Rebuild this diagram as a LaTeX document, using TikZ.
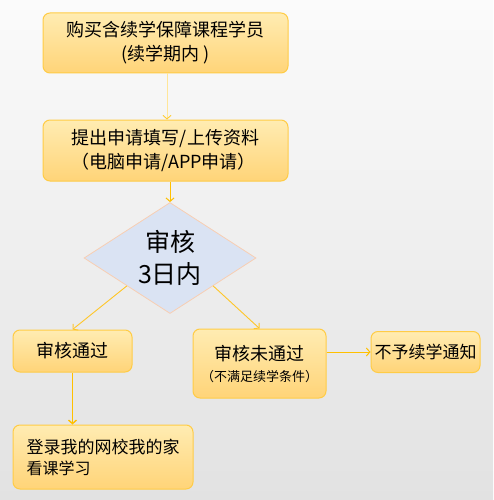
\documentclass[tikz,border=0pt]{standalone}
\usepackage{fontspec}
\setmainfont{Noto Sans CJK SC}
\usepackage{xcolor}
\usepackage{tikz}
\usetikzlibrary{positioning}
\usetikzlibrary{shapes.geometric}
\usetikzlibrary{arrows.meta}

\definecolor{boxtop}{RGB}{255,236,178}
\definecolor{boxbot}{RGB}{255,212,120}
\definecolor{boxline}{RGB}{255,204,70}
\definecolor{diafill}{RGB}{218,227,243}
\definecolor{dialine}{RGB}{248,206,178}
\definecolor{flowc}{RGB}{255,192,0}
\definecolor{thinflow}{RGB}{255,198,40}
\definecolor{bgtop}{RGB}{251,251,251}
\definecolor{bgbot}{RGB}{226,226,226}

\begin{document}
\begin{tikzpicture}[
    x=1pt,y=-1pt,
    stepbox/.style={draw=boxline,line width=1pt,rounded corners=7pt,
      top color=boxtop,bottom color=boxbot,inner sep=0pt,
      font=\fontsize{18}{24}\selectfont},
    check/.style={draw=dialine,line width=0.8pt,diamond,aspect=1.55,
      minimum width=172pt,minimum height=111pt,inner sep=0pt,fill=diafill,
      align=center,font=\fontsize{25}{32}\selectfont},
    flow/.style={draw=flowc,line width=1pt,-{Straight Barb[length=3.5pt,width=8pt]}},
    thin flow/.style={flow,draw=thinflow,line width=0.9pt}
    ]

    \path[top color=bgtop,bottom color=bgbot] (0,0) rectangle (493,500);
    \useasboundingbox (0,0) rectangle (493,500);

    \node[stepbox,minimum width=245pt,minimum height=60pt,align=center] (buy) at (165.5,43)
      {购买含续学保障课程学员\\(续学期内 )};
    \node[stepbox,minimum width=245pt,minimum height=61pt,align=left] (apply) at (165.5,150.5)
      {提出申请填写/上传资料\\（电脑申请/APP申请）};

    \node[check] (audit) at (170,258) {审核\\ 3日内};

    \node[stepbox,minimum width=119pt,minimum height=42pt] (pass) at (72.5,351) {审核通过};
    \node[stepbox,minimum width=133pt,minimum height=69pt,align=center] (fail) at (259.5,363.5)
      {审核未通过\\[-3pt]{\fontsize{13}{16}\selectfont（不满足续学条件）}};
    \node[stepbox,minimum width=109pt,minimum height=41pt,font=\fontsize{17}{22}\selectfont] (deny) at (425.5,352)
      {不予续学通知};

    \node[stepbox,minimum width=180pt,minimum height=64pt,align=left,font=\fontsize{17}{21}\selectfont] (login) at (103,457)
      {登录我的网校我的家\\{\fontsize{16}{20}\selectfont 看课学习}};

    \path ([xshift=1.5pt]buy.south) edge[flow,draw=flowc!40,line width=0.9pt,
        -{Straight Barb[length=3.5pt,width=8pt,color=flowc!80]}] ([xshift=1.5pt]apply.north)
    (apply.south -| audit.north) edge[flow] (audit.north)
    (audit.south west) edge[thin flow] (pass.north)
    (audit.south east) edge[thin flow] (fail.north)

    (fail.east |- deny) edge[flow] (deny.west)
    (pass) edge[flow,line width=1.4pt] (pass |- login.north)
    ;
  \end{tikzpicture}
\end{document}
